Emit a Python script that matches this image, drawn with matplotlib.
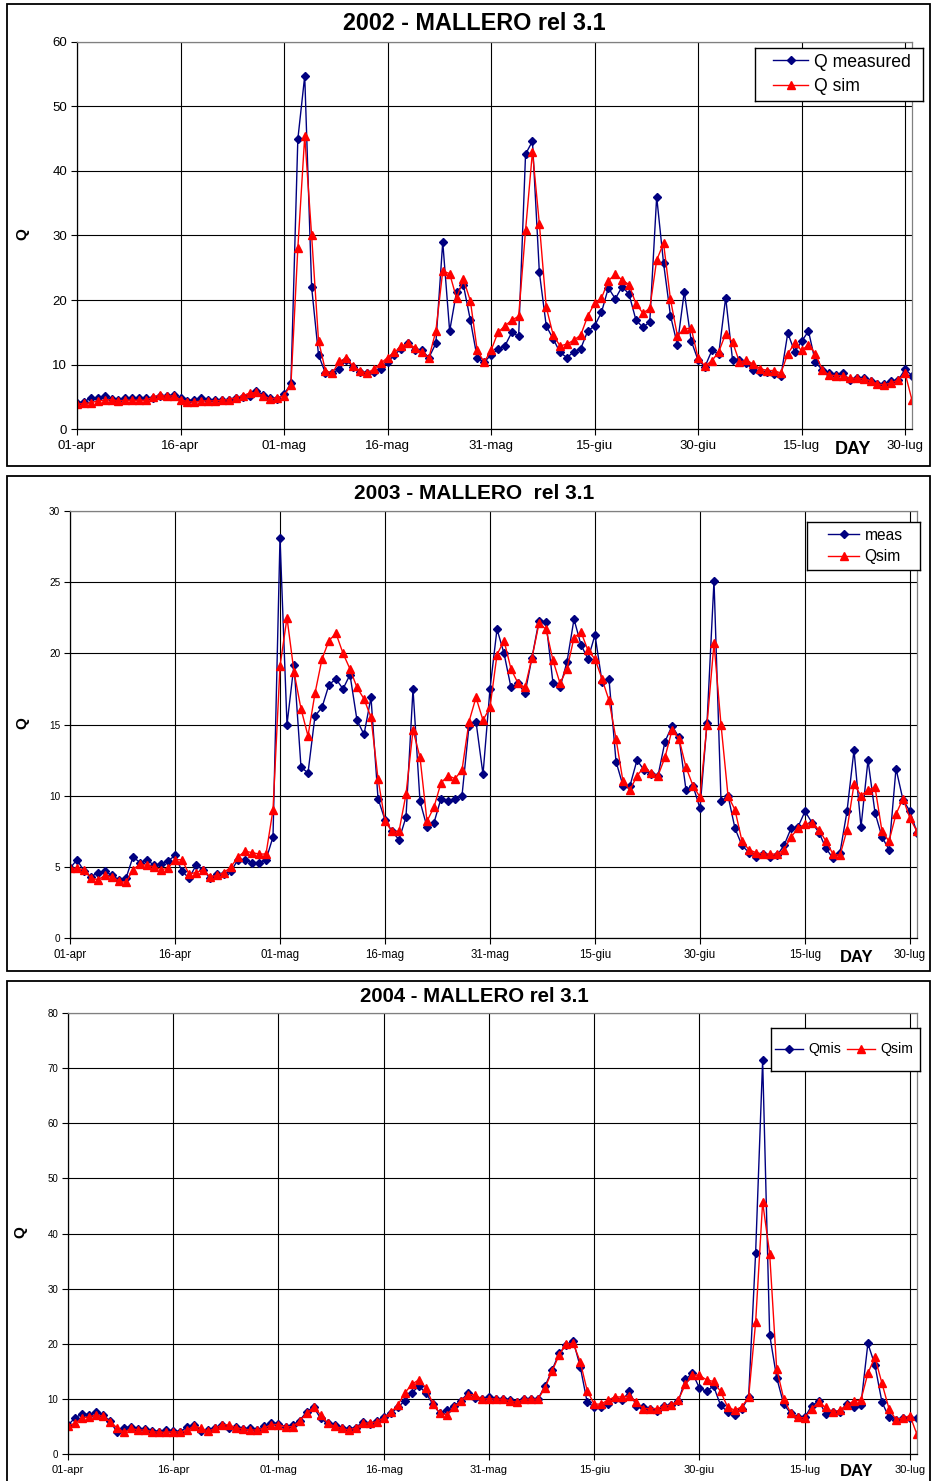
import matplotlib
matplotlib.use("Agg")
import matplotlib.pyplot as plt
from matplotlib.patches import Rectangle

plt.rcParams['font.family'] = ['Liberation Sans', 'DejaVu Sans']

# days from 01-apr (0) to 31-lug (121)
days = list(range(122))
tick_days = [0, 15, 30, 45, 60, 75, 90, 105, 120]
tick_labels = ["01-apr", "16-apr", "01-mag", "16-mag", "31-mag",
               "15-giu", "30-giu", "15-lug", "30-lug"]

q02_meas = [4.0, 4.3, 4.8, 4.8, 5.1, 4.7, 4.5, 4.8, 4.9, 4.8, 4.8, 4.9, 5.2, 5.1, 5.3,
            4.8, 4.4, 4.6, 4.8, 4.6, 4.5, 4.5, 4.6, 4.8, 5.0, 5.2, 5.9, 5.3, 4.9, 4.7,
            5.4, 7.1, 44.9, 54.7, 22.0, 11.5, 8.7, 8.7, 9.3, 10.7, 9.7, 8.8, 8.7, 8.9, 9.4,
            10.4, 11.5, 12.5, 13.3, 12.2, 12.2, 11.1, 13.3, 29.0, 15.2, 21.3, 22.3, 16.9, 11.0, 10.4,
            11.5, 12.4, 12.9, 15.0, 14.4, 42.6, 44.6, 24.3, 16.0, 14.0, 11.9, 11.1, 12.0, 12.5, 15.2,
            16.0, 18.1, 21.9, 20.2, 22.1, 20.9, 16.9, 15.8, 16.6, 36.0, 25.7, 17.6, 13.1, 21.3, 13.7,
            10.7, 9.7, 12.2, 11.7, 20.4, 10.7, 10.8, 10.2, 9.2, 8.8, 8.8, 8.6, 8.2, 14.9, 12.0,
            13.6, 15.2, 10.4, 9.2, 8.7, 8.4, 8.7, 7.6, 8.0, 7.9, 7.4, 7.0, 7.0, 7.4, 7.6,
            9.3, 8.3]
q02_sim = [3.9, 4.0, 4.1, 4.4, 4.5, 4.6, 4.4, 4.5, 4.5, 4.5, 4.5, 5.0, 5.3, 5.1, 5.2,
           4.6, 4.3, 4.2, 4.4, 4.4, 4.4, 4.5, 4.6, 4.9, 5.2, 5.6, 5.7, 5.2, 4.7, 4.9,
           5.2, 6.9, 28.0, 45.4, 30.0, 13.7, 9.1, 8.7, 10.5, 11.0, 9.8, 9.1, 8.7, 9.3, 10.2,
           11.1, 11.9, 12.9, 13.3, 12.6, 11.9, 11.1, 15.2, 24.5, 24.1, 20.3, 23.2, 19.9, 12.2, 10.4,
           12.2, 15.0, 16.0, 16.9, 17.5, 30.8, 43.0, 31.8, 18.9, 14.6, 12.9, 13.2, 13.8, 14.6, 17.5,
           19.5, 20.3, 23.0, 24.0, 23.1, 22.4, 19.4, 18.0, 18.7, 26.2, 28.8, 20.1, 14.5, 15.5, 15.7,
           11.0, 9.8, 10.6, 12.0, 14.8, 13.5, 10.4, 10.7, 10.1, 9.4, 9.1, 9.1, 8.7, 11.7, 13.3,
           12.2, 13.1, 11.7, 9.2, 8.4, 8.3, 8.3, 7.9, 7.9, 7.8, 7.5, 7.0, 6.9, 7.2, 7.6,
           8.7, 4.5]

q03_meas = [4.9, 5.5, 4.7, 4.3, 4.6, 4.7, 4.4, 4.1, 4.2, 5.7, 5.3, 5.5, 5.1, 5.2, 5.4,
            5.8, 4.7, 4.2, 5.1, 4.8, 4.2, 4.5, 4.5, 4.7, 5.5, 5.5, 5.3, 5.3, 5.5, 7.1,
            28.1, 15.0, 19.2, 12.0, 11.6, 15.6, 16.2, 17.8, 18.2, 17.5, 18.5, 15.3, 14.3, 16.9, 9.8,
            8.3, 7.5, 6.9, 8.5, 17.5, 9.6, 7.8, 8.1, 9.8, 9.6, 9.8, 10.0, 14.9, 15.2, 11.5,
            17.5, 21.7, 20.0, 17.6, 17.9, 17.2, 19.7, 22.3, 22.2, 17.9, 17.6, 19.4, 22.4, 20.6, 19.6,
            21.3, 18.0, 18.2, 12.4, 10.7, 10.7, 12.5, 11.8, 11.5, 11.4, 13.8, 14.9, 14.1, 10.4, 10.7,
            9.1, 15.1, 25.1, 9.6, 10.0, 7.7, 6.5, 6.0, 5.7, 5.9, 5.7, 5.8, 6.5, 7.7, 7.8,
            8.9, 8.1, 7.4, 6.3, 5.6, 6.0, 8.9, 13.2, 7.8, 12.5, 8.8, 7.1, 6.2, 11.9, 9.7,
            8.9, 7.4]
q03_sim = [4.9, 4.9, 4.8, 4.2, 4.1, 4.4, 4.3, 4.0, 3.9, 4.8, 5.2, 5.1, 5.0, 4.8, 4.9,
           5.5, 5.5, 4.5, 4.6, 4.8, 4.3, 4.4, 4.6, 5.0, 5.7, 6.1, 6.0, 5.9, 5.9, 9.0,
           19.1, 22.5, 18.7, 16.1, 14.2, 17.2, 19.6, 20.9, 21.4, 20.0, 18.9, 17.6, 16.8, 15.5, 11.2,
           8.2, 7.5, 7.5, 10.1, 14.6, 12.7, 8.2, 9.2, 10.9, 11.4, 11.2, 11.8, 15.2, 16.9, 15.3,
           16.2, 19.9, 20.9, 18.9, 17.9, 17.6, 19.7, 22.1, 21.7, 19.5, 17.9, 18.9, 21.1, 21.5, 20.2,
           19.6, 18.2, 16.7, 14.0, 11.0, 10.4, 11.4, 12.0, 11.6, 11.4, 12.7, 14.6, 14.0, 12.0, 10.7,
           9.9, 15.0, 20.7, 15.0, 10.0, 9.0, 6.8, 6.2, 6.0, 5.9, 5.9, 5.9, 6.2, 7.1, 7.7,
           8.0, 8.1, 7.6, 6.8, 5.9, 5.8, 7.6, 10.8, 10.0, 10.4, 10.6, 7.5, 6.8, 8.7, 9.8,
           8.4, 7.5]

q04_meas = [5.3, 6.6, 7.3, 7.2, 7.7, 7.2, 6.0, 4.0, 4.8, 5.0, 4.6, 4.6, 4.3, 4.1, 4.4,
            4.2, 4.1, 5.0, 5.4, 4.2, 4.4, 4.8, 5.4, 4.8, 5.0, 4.6, 4.7, 4.4, 5.1, 5.7,
            5.5, 5.0, 5.3, 6.1, 7.7, 8.6, 6.5, 5.6, 5.3, 4.8, 4.6, 4.8, 5.9, 5.5, 6.0,
            6.8, 7.4, 8.5, 9.7, 11.1, 12.4, 11.1, 9.1, 7.4, 8.0, 8.8, 9.7, 11.1, 10.2, 10.0,
            10.3, 10.0, 10.1, 9.9, 9.4, 10.0, 10.0, 10.1, 12.4, 15.3, 18.3, 19.8, 20.6, 15.9, 9.4,
            8.6, 8.6, 9.1, 10.0, 9.8, 11.4, 8.8, 8.5, 8.3, 7.9, 8.8, 8.9, 9.7, 13.6, 14.7,
            12.0, 11.4, 12.4, 8.9, 7.7, 7.1, 8.2, 10.3, 36.5, 71.4, 21.7, 13.9, 9.1, 7.4, 6.8,
            6.7, 8.8, 9.7, 7.3, 7.6, 7.7, 9.2, 8.5, 8.9, 20.1, 16.2, 9.5, 6.7, 6.2, 6.5,
            6.6, 6.6]
q04_sim = [5.2, 5.6, 6.6, 6.8, 7.1, 6.9, 5.9, 4.8, 4.0, 4.7, 4.4, 4.4, 4.1, 4.0, 4.0,
           4.1, 4.0, 4.4, 5.2, 4.7, 4.2, 4.7, 5.4, 5.3, 4.8, 4.6, 4.4, 4.4, 4.8, 5.4,
           5.4, 5.0, 5.0, 6.0, 7.4, 8.5, 7.2, 5.6, 5.1, 4.7, 4.4, 4.8, 5.6, 5.7, 5.9,
           6.6, 7.6, 8.9, 11.1, 12.7, 13.5, 12.1, 9.2, 7.4, 7.2, 8.5, 9.7, 10.8, 10.8, 10.0,
           10.1, 10.0, 10.0, 9.7, 9.4, 10.0, 10.0, 10.0, 12.1, 15.1, 18.0, 20.0, 20.1, 16.8, 11.5,
           9.1, 9.1, 9.9, 10.4, 10.4, 10.6, 9.5, 8.3, 8.3, 8.3, 8.8, 8.9, 9.9, 12.7, 14.4,
           14.3, 13.5, 13.2, 11.4, 8.6, 8.0, 8.6, 10.3, 23.9, 45.7, 36.4, 15.5, 10.1, 7.5, 6.7,
           6.6, 8.3, 9.4, 8.5, 7.7, 8.0, 8.9, 9.7, 9.8, 14.7, 17.6, 12.9, 8.3, 6.3, 6.6,
           7.0, 3.6]

W, H = 933, 1481
fig = plt.figure(figsize=(W / 100, H / 100), dpi=100)
fig.patch.set_facecolor('white')


def fx(x):
    return x / W


def fy(y):
    return 1 - y / H


def frame(l, t, r, b, lw):
    fig.patches.append(Rectangle((fx(l), fy(b)), fx(r - l), (b - t) / H,
                                 transform=fig.transFigure, fill=False,
                                 edgecolor='black', lw=lw, zorder=5))


def panel(box, area, meas, sim, names, ymax, ystep, title, title_fs,
          xt_fs, yt_fs, leg_box, leg_pad, leg_fs, leg_ncol, q_pos, day_pos):
    frame(*box, lw=1.3)
    l, t, r, b = area
    ax = fig.add_axes([fx(l), fy(b), fx(r - l), (b - t) / H])
    ax.plot(days, meas, color='#000080', lw=1, marker='D', ms=3.6, label=names[0])
    ax.plot(days, sim, color='#ff0000', lw=1, marker='^', ms=5.5, label=names[1])
    ax.set_xlim(0, 121)
    ax.set_ylim(0, ymax)
    ax.set_xticks(tick_days)
    ax.set_xticklabels(tick_labels, fontsize=xt_fs)
    ax.set_yticks(range(0, ymax + 1, ystep))
    ax.tick_params(axis='y', labelsize=yt_fs, length=4, width=0.8, pad=3)
    ax.tick_params(axis='x', length=4, width=0.8, pad=4)
    ax.grid(True, color='black', lw=0.8)
    for side in ['left', 'bottom']:
        ax.spines[side].set_color('black')
        ax.spines[side].set_linewidth(0.9)
    for side in ['top', 'right']:
        ax.spines[side].set_color('#808080')
        ax.spines[side].set_linewidth(0.9)
    fig.text(fx((box[0] + box[2]) / 2 + 6), fy(title[1]), title[0], ha='center',
             va='center', fontsize=title_fs, fontweight='bold')
    fig.text(fx(q_pos[0]), fy(q_pos[1]), 'Q', rotation=90, ha='center', va='center',
             fontsize=11, fontweight='bold')
    fig.text(fx(day_pos[0]), fy(day_pos[1]), 'DAY', ha='center', va='center',
             fontsize=day_pos[2], fontweight='bold')
    # legend box drawn separately so its size matches the original
    ll, lt, lr, lb = leg_box
    leg_ax = fig.add_axes([fx(ll), fy(lb), fx(lr - ll), (lb - lt) / H])
    leg_ax.set_xticks([])
    leg_ax.set_yticks([])
    for s in leg_ax.spines.values():
        s.set_color('black')
        s.set_linewidth(1.0)
    h, lab = ax.get_legend_handles_labels()
    leg_ax.legend(h, lab, loc='center left', bbox_to_anchor=(leg_pad / (lr - ll), 0.5),
                  fontsize=leg_fs, ncol=leg_ncol, frameon=False, handlelength=2.0,
                  borderpad=0, borderaxespad=0, labelspacing=0.45,
                  columnspacing=0.4, handletextpad=0.35)
    return ax


panel((7, 4, 930, 466), (77, 41.7, 912, 429.3), q02_meas, q02_sim,
      ["Q measured", "Q sim"], 60, 10, ("2002 - MALLERO rel 3.1", 24), 16.8,
      9.5, 9.5, (755, 48, 923, 101), 18, 12.7, 1, (22, 234), (853, 450, 13))

panel((7, 476, 930, 971), (70, 511, 917, 938), q03_meas, q03_sim,
      ["meas", "Qsim"], 30, 5, ("2003 - MALLERO  rel 3.1", 493), 15,
      8.3, 7.2, (807, 522, 920, 570), 21, 11.2, 1, (22, 723), (857, 957, 12))

panel((7, 981, 930, 1490), (68, 1013, 917, 1454.3), q04_meas, q04_sim,
      ["Qmis", "Qsim"], 80, 10, ("2004 - MALLERO rel 3.1", 996), 14.7,
      8, 7, (771, 1028, 920, 1071), 4, 10.2, 2, (20, 1232), (857, 1471, 12))

fig.savefig('out.png', dpi=100)
